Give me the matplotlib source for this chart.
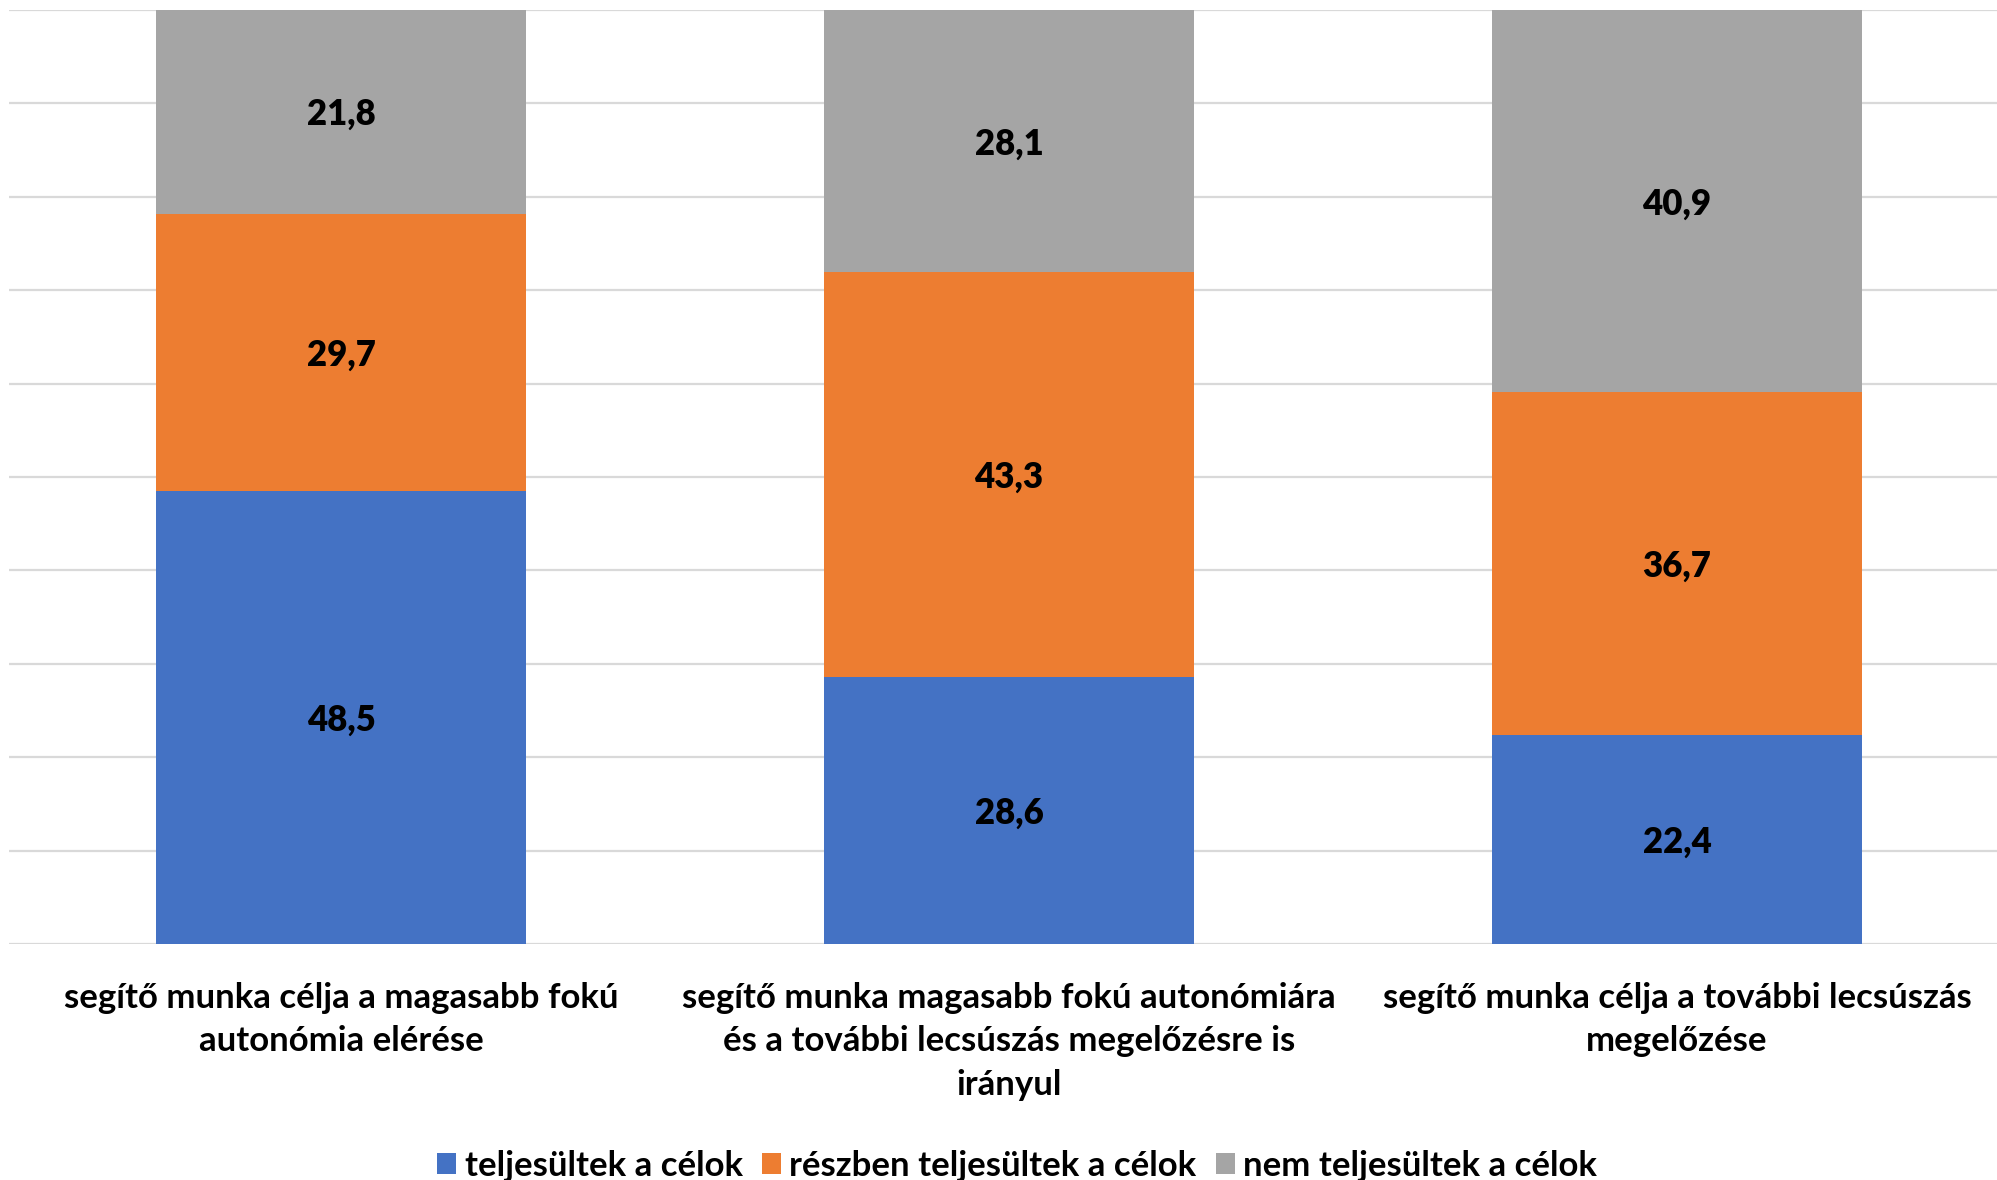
import matplotlib
matplotlib.use("Agg")
import matplotlib.pyplot as plt
from matplotlib.patches import Patch
import numpy as np

plt.rcParams['font.family'] = ['Lato', 'DejaVu Sans']
plt.rcParams['font.weight'] = 'bold'

categories = [
    'segítő munka célja a magasabb fokú\nautonómia elérése',
    'segítő munka magasabb fokú autonómiára\nés a további lecsúszás megelőzésre is\nirányul',
    'segítő munka célja a további lecsúszás\nmegelőzése',
]
series_names = ['teljesültek a célok', 'részben teljesültek a célok', 'nem teljesültek a célok']
teljesultek = [48.5, 28.6, 22.4]
reszben = [29.7, 43.3, 36.7]
nem = [21.8, 28.1, 40.9]
colors = ['#4472C4', '#ED7D31', '#A5A5A5']

fig = plt.figure(figsize=(19.97, 11.80), dpi=100)
ax = fig.add_axes([9 / 1997, 0.2, 1 - 9 / 1997, 0.7915])

x = np.arange(len(categories))
bottom = np.zeros(len(categories))
for vals, col in zip([teljesultek, reszben, nem], colors):
    vals = np.array(vals)
    ax.bar(x, vals, width=0.554, bottom=bottom, color=col, zorder=2)
    # data labels in the middle of each segment
    for xi, b, v in zip(x, bottom, vals):
        ax.text(xi, b + v / 2 - 0.3, f'{v:.1f}'.replace('.', ','), ha='center', va='center',
                fontsize=25, fontweight='heavy', color='black', zorder=3)
    bottom += vals

ax.set_xlim(-0.497, 2.479)
ax.set_ylim(0, 100)
ax.set_yticks(np.arange(0, 101, 10))
ax.yaxis.grid(True, color='#D9D9D9', linewidth=1.6, zorder=0)
ax.set_yticklabels([])
ax.tick_params(axis='y', length=0)
ax.set_xticks(x)
ax.set_xticklabels(categories, fontsize=25, fontweight='bold', linespacing=1.46)
ax.tick_params(axis='x', length=0, pad=27)
for s in ax.spines.values():
    s.set_visible(False)

handles = [Patch(facecolor=c, edgecolor='none') for c in colors]
fig.legend(handles, series_names, loc='center', bbox_to_anchor=(1017 / 1997, 1 - 1166 / 1180),
           ncol=3, frameon=False, fontsize=25, handlelength=0.55, handleheight=0.55,
           handletextpad=0.25, columnspacing=0.55, borderpad=0)

fig.savefig('out.png', dpi=100)
